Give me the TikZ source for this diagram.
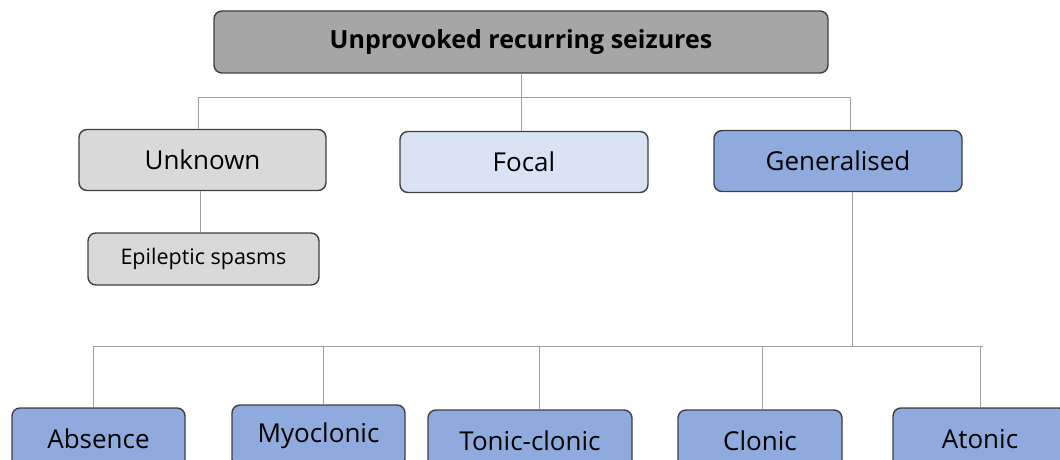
\documentclass[tikz,border=0pt]{standalone}
\usepackage{fontspec}
\setmainfont{Open Sans}
\begin{document}
\begin{tikzpicture}[x=1pt,y=-1pt,
  box/.style={draw=boxline,line width=1.4pt,rounded corners=8pt,inner sep=0pt,align=center,font=\fontsize{26}{30}\selectfont},
  link/.style={draw=linkgray,line width=1pt}]
\definecolor{boxline}{HTML}{404040}
\definecolor{linkgray}{HTML}{A0A0A0}
\definecolor{topfill}{HTML}{A6A6A6}
\definecolor{greyfill}{HTML}{D9D9D9}
\definecolor{palefill}{HTML}{DAE3F3}
\definecolor{bluefill}{HTML}{8FAADC}
\useasboundingbox (0,0) rectangle (1060,460);
\clip (0,0) rectangle (1060,460);
\fill[white] (0,0) rectangle (1060,460);

% top level
\node[box,fill=topfill,minimum width=614pt,minimum height=62pt,font=\fontsize{25}{29}\selectfont\bfseries] (top) at (521,42) {Unprovoked recurring seizures};

% second level
\node[box,fill=greyfill,minimum width=247pt,minimum height=61pt] (unknown) at (202.5,160) {Unknown};
\node[box,fill=palefill,minimum width=248pt,minimum height=61pt] (focal) at (524,162) {Focal};
\node[box,fill=bluefill,minimum width=248pt,minimum height=61pt] (gen) at (838,161) {Generalised};
\node[box,fill=greyfill,minimum width=231pt,minimum height=52pt,font=\fontsize{21.5}{25}\selectfont] (spasms) at (203.5,259) {Epileptic spasms};

% generalised seizure types
\node[box,fill=bluefill,minimum width=173pt,minimum height=62pt] (absence) at (98.5,439) {Absence};
\node[box,fill=bluefill,minimum width=173pt,minimum height=62pt] (myo) at (318.5,436) {Myoclonic};
\node[box,fill=bluefill,minimum width=204pt,minimum height=62pt] (tonic) at (530,441) {Tonic-clonic};
\node[box,fill=bluefill,minimum width=164pt,minimum height=62pt] (clonic) at (760,441) {Clonic};
\node[box,fill=bluefill,minimum width=174pt,minimum height=62pt] (atonic) at (980,439) {Atonic};

% upper bus
\coordinate (busL) at (198,97);
\coordinate (busR) at (850,97);
\draw[link] (busL) -- (busR);
\draw[link] (top.south) -- (top.south |- focal.north);
\draw[link] (busL) -- (busL |- unknown.north);
\draw[link] (busR) -- (busR |- gen.north);
\coordinate (ux) at (200,0);
\draw[link] (unknown.south -| ux) -- (ux |- spasms.north);

% lower bus
\coordinate (gx) at (852,346);
\coordinate (lowL) at (93,346);
\coordinate (lowR) at (983,346);
\draw[link] (gen.south -| gx) -- (gx);
\draw[link] (lowL) -- (lowR);
\coordinate (d1) at (93,346);
\coordinate (d2) at (323,346);
\coordinate (d3) at (539,346);
\coordinate (d4) at (762,346);
\coordinate (d5) at (980,346);
\draw[link] (d1) -- (d1 |- absence.north);
\draw[link] (d2) -- (d2 |- myo.north);
\draw[link] (d3) -- (d3 |- tonic.north);
\draw[link] (d4) -- (d4 |- clonic.north);
\draw[link] (d5) -- (d5 |- atonic.north);
\end{tikzpicture}
\end{document}
